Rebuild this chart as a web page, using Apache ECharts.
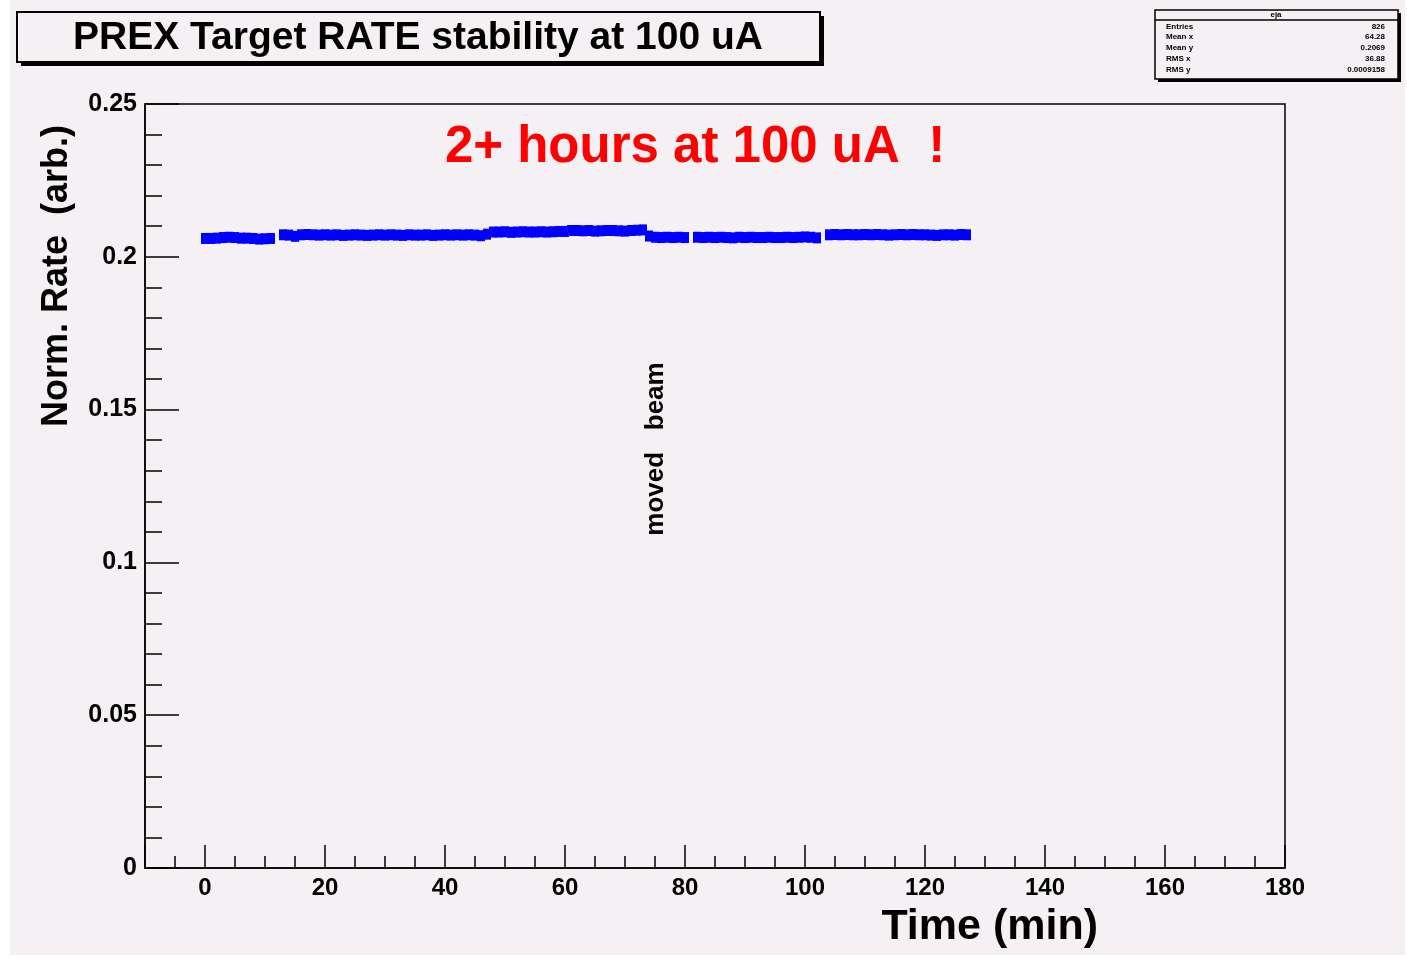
<!DOCTYPE html>
<html>
<head>
<meta charset="UTF-8">
<title>PREX Target RATE stability</title>
<script src="https://cdn.jsdelivr.net/npm/echarts@6/dist/echarts.min.js"></script>
<style>
  html, body { margin: 0; padding: 0; background: #fff; }
</style>
</head>
<body>
<div id="container" style="width: 1407px; height: 958px;"></div>
<script>
// time (min) and normalised rate, one point per minute
var timeMin = [
  0,1,2,3,4,5,6,7,8,9,10,11,
  13,14,15,16,17,18,19,20,21,22,23,24,25,26,27,28,29,30,31,32,33,34,35,36,37,38,39,40,41,42,43,44,45,46,47,
  48,49,50,51,52,53,54,55,56,57,58,59,60,
  61,62,63,64,65,66,67,68,69,70,71,72,73,
  74,75,76,77,78,79,80,
  82,83,84,85,86,87,88,89,90,91,92,93,94,95,96,97,98,99,100,101,102,
  104,105,106,107,108,109,110,111,112,113,114,115,116,117,118,119,120,121,122,123,124,125,126,127
];
var normRate = [
  0.2060,0.2060,0.2061,0.2063,0.2064,0.2063,0.2061,0.2061,0.2060,0.2058,0.2059,0.2060,
  0.2072,0.2071,0.2067,0.2072,0.2073,0.2072,0.2071,0.2072,0.2071,0.2072,0.2070,0.2071,0.2072,0.2071,0.2070,0.2071,
  0.2072,0.2071,0.2072,0.2071,0.2070,0.2072,0.2071,0.2071,0.2072,0.2070,0.2071,0.2072,0.2071,0.2072,0.2071,0.2072,
  0.2071,0.2069,0.2074,
  0.2081,0.2081,0.2082,0.2080,0.2081,0.2082,0.2081,0.2081,0.2082,0.2081,0.2082,0.2083,0.2083,
  0.2086,0.2086,0.2085,0.2086,0.2084,0.2085,0.2086,0.2086,0.2085,0.2084,0.2086,0.2087,0.2088,
  0.2068,0.2064,0.2063,0.2064,0.2063,0.2064,0.2063,
  0.2064,0.2063,0.2064,0.2063,0.2064,0.2063,0.2062,0.2064,0.2063,0.2064,0.2063,0.2063,0.2064,0.2063,0.2063,0.2064,
  0.2063,0.2064,0.2065,0.2064,0.2062,
  0.2072,0.2073,0.2072,0.2073,0.2072,0.2072,0.2073,0.2072,0.2073,0.2072,0.2071,0.2072,0.2073,0.2072,0.2073,0.2072,
  0.2072,0.2071,0.2070,0.2072,0.2072,0.2071,0.2073,0.2072
];

// stats box
var statNames = ['Entries', 'Mean x', 'Mean y', 'RMS x', 'RMS y'];
var statValues = ['826', '64.28', '0.2069', '36.88', '0.0009158'];

var bg = '#f4f0f4';
var font = 'Liberation Sans, Arial, Helvetica, sans-serif';

var points = [];
for (var i = 0; i < timeMin.length; i++) {
  points.push([timeMin[i], normRate[i]]);
}

var statGraphics = [];
var rowY = [27, 37, 48, 59, 70];
for (var k = 0; k < statNames.length; k++) {
  statGraphics.push({
    type: 'text', x: 1166, y: rowY[k], z: 20,
    style: { text: statNames[k], fill: '#000', font: 'bold 8px ' + font, textAlign: 'left', textVerticalAlign: 'middle' }
  });
  statGraphics.push({
    type: 'text', x: 1385, y: rowY[k], z: 20,
    style: { text: statValues[k], fill: '#000', font: 'bold 8px ' + font, textAlign: 'right', textVerticalAlign: 'middle' }
  });
}

var mychart = echarts.init(document.getElementById('container'), null, { renderer: 'canvas' });

var option = {
  backgroundColor: bg,
  animation: false,
  grid: {
    left: 145, top: 104, right: 122, bottom: 90,
    show: true, backgroundColor: bg, borderColor: '#000', borderWidth: 1.5
  },
  xAxis: {
    type: 'value',
    min: -10, max: 180,
    minInterval: 20, maxInterval: 20, splitNumber: 9,
    axisLine: { show: true, onZero: false, lineStyle: { color: '#000', width: 1.5 } },
    axisTick: { show: true, inside: true, length: 23, lineStyle: { color: '#000', width: 1.5 } },
    minorTick: { show: true, splitNumber: 4, length: 12, lineStyle: { color: '#000', width: 1.5 } },
    splitLine: { show: false },
    axisLabel: {
      color: '#000', fontSize: 24, fontWeight: 'bold', fontFamily: font, margin: 8,
      formatter: function (v) { return v < 0 ? '' : String(v); }
    }
  },
  yAxis: {
    type: 'value',
    min: 0, max: 0.25, interval: 0.05,
    axisLine: { show: true, onZero: false, lineStyle: { color: '#000', width: 1.5 } },
    axisTick: { show: true, inside: true, length: 34, lineStyle: { color: '#000', width: 1.5 } },
    minorTick: { show: true, splitNumber: 5, length: 17, lineStyle: { color: '#000', width: 1.5 } },
    splitLine: { show: false },
    axisLabel: { color: '#000', fontSize: 25, fontWeight: 'bold', fontFamily: font, margin: 8 }
  },
  series: [{
    type: 'scatter',
    data: points,
    symbol: 'rect',
    symbolSize: [8, 11],
    itemStyle: { color: '#0000ff', opacity: 1 },
    silent: true
  }],
  graphic: [
    // white margins of the picture
    { type: 'rect', shape: { x: 0, y: 0, width: 10, height: 958 }, style: { fill: '#fff' }, z: 1 },
    { type: 'rect', shape: { x: 0, y: 955, width: 1407, height: 3 }, style: { fill: '#fff' }, z: 1 },
    { type: 'rect', shape: { x: 1405, y: 0, width: 2, height: 958 }, style: { fill: '#fff' }, z: 1 },
    // title box
    { type: 'rect', shape: { x: 21, y: 16, width: 803, height: 50 }, style: { fill: '#000' }, z: 10 },
    { type: 'rect', shape: { x: 17, y: 12, width: 803, height: 50 }, style: { fill: bg, stroke: '#000', lineWidth: 2 }, z: 11 },
    { type: 'text', x: 418, y: 38, z: 12,
      style: { text: 'PREX Target RATE stability at 100 uA', fill: '#000', font: 'bold 39px ' + font, textAlign: 'center', textVerticalAlign: 'middle' } },
    // stats box
    { type: 'rect', shape: { x: 1158, y: 13, width: 243, height: 69 }, style: { fill: '#000' }, z: 10 },
    { type: 'rect', shape: { x: 1155, y: 10, width: 243, height: 69 }, style: { fill: bg, stroke: '#000', lineWidth: 1.5 }, z: 11 },
    { type: 'line', shape: { x1: 1155, y1: 20, x2: 1398, y2: 20 }, style: { stroke: '#000', lineWidth: 1.5 }, z: 12 },
    { type: 'text', x: 1276, y: 15, z: 12,
      style: { text: 'eja', fill: '#000', font: 'bold 8px ' + font, textAlign: 'center', textVerticalAlign: 'middle' } },
    // annotation
    { type: 'text', x: 695, y: 148, z: 12,
      style: { text: '2+ hours at 100 uA  !', fill: '#ff0000', font: 'bold 51px ' + font, textAlign: 'center', textVerticalAlign: 'middle' } },
    { type: 'text', x: 656, y: 449, rotation: Math.PI / 2, z: 12,
      style: { text: 'moved   beam', fill: '#000', font: 'bold 26px ' + font, textAlign: 'center', textVerticalAlign: 'middle' } },
    // axis titles
    { type: 'text', x: 1098, y: 927, z: 12,
      style: { text: 'Time (min)', fill: '#000', font: 'bold 43px ' + font, textAlign: 'right', textVerticalAlign: 'middle' } },
    { type: 'text', x: 57, y: 276, rotation: Math.PI / 2, z: 12,
      style: { text: 'Norm. Rate  (arb.)', fill: '#000', font: 'bold 36px ' + font, textAlign: 'center', textVerticalAlign: 'middle' } }
  ].concat(statGraphics)
};

mychart.setOption(option);
</script>
</body>
</html>
